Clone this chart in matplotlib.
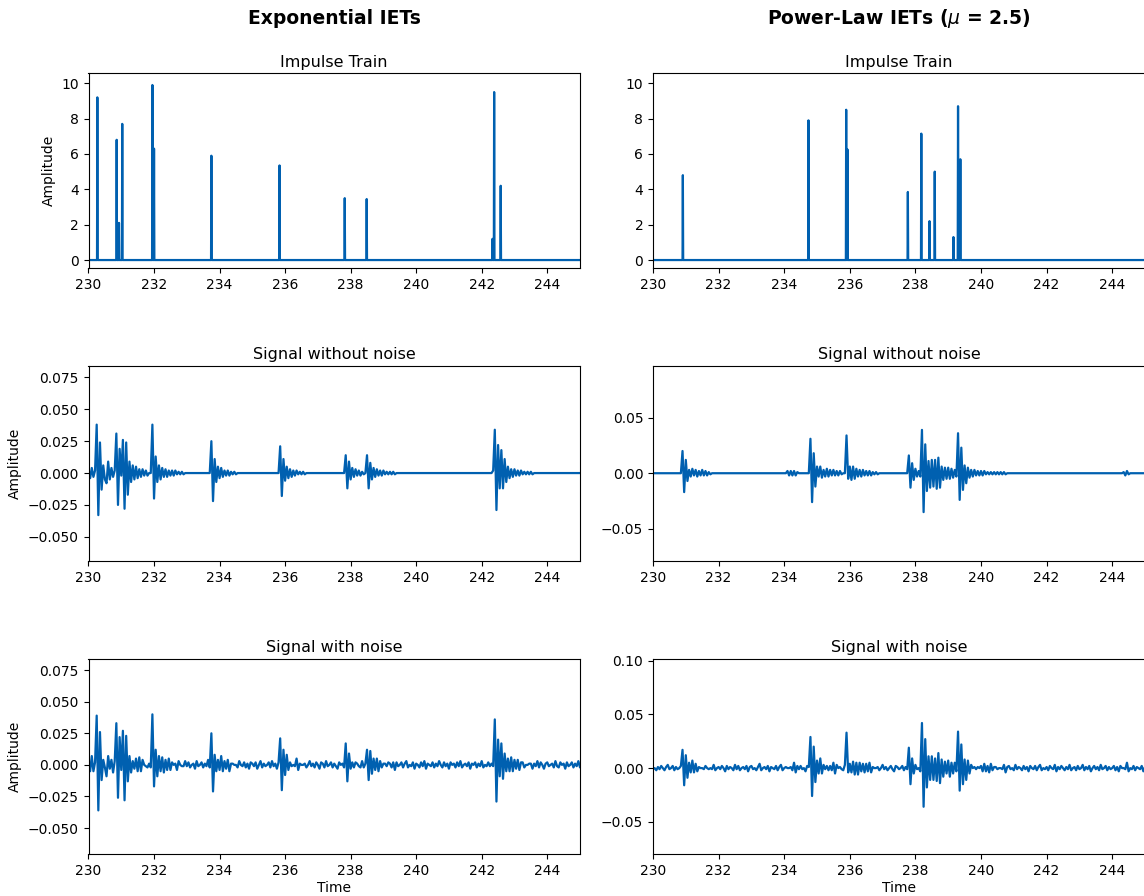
import matplotlib
matplotlib.use("Agg")
import matplotlib.pyplot as plt
import numpy as np

# impulse times / amplitudes
exp_imp_t = [230.27, 230.86, 230.93, 231.03, 231.95, 232.00, 233.75, 235.83,
             237.82, 238.49, 242.33, 242.38, 242.58]
exp_imp_a = [9.2, 6.8, 2.1, 7.7, 9.9, 6.3, 5.9, 5.35, 3.5, 3.45, 1.2, 9.5, 4.2]

pow_imp_t = [230.91, 234.74, 235.89, 235.93, 237.77, 238.18, 238.43, 238.59,
             239.16, 239.30, 239.37]
pow_imp_a = [4.8, 7.9, 8.5, 6.25, 3.85, 7.15, 2.2, 5.0, 1.3, 8.7, 5.7]

# signal bursts: onset time and successive samples (x 1e-3, 0.05 s apart)
exp_burst_t = [230.0, 230.25, 230.85, 231.95, 233.75, 235.85, 237.85, 238.5, 242.35]
exp_burst_v = [
    [3, -4, 4, -3, 2],
    [38, -33, 24, -13, 6, -5, -8, 9, -5, 4, -3, 2],
    [31, -25, 19, -2, 26, -28, 24, -17, 9, -7, 6, -5, 5, -4, 3, -3, 3, -2, 2, -2],
    [38, -20, 13, -7, 6, -5, 4, -3, 3, -3, 2, -2, 2, -2, 2, -1, 1, -1, 1, -1],
    [25, -22, 11, -7, 5, -4, 4, -3, 2, -2, 2, -2, 1, -1, 1, -1],
    [21, -18, 11, -6, 5, -4, 3, -3, 2, -2, 2, -1, 1, -1, 1, -1],
    [14, -12, 9, -5, 4, -3, 3, -2, 2, -2, 1, -1],
    [14, -12, 8, -5, 4, -3, 3, -2, 2, -2, 2, -1, 1, -1, 1, -1, 1, -1],
    [2, 34, -29, 22, -12, 18, -12, 11, -7, 5, -4, 3, -3, 3, -2, 2, -2, 2, -1, 1,
     -1, 1, -1, 1, -1],
]

pow_burst_t = [230.9, 234.1, 234.8, 235.9, 237.8, 238.2, 239.3, 244.35]
pow_burst_v = [
    [20, -17, 12, -7, 3, -3, 4, -2, 3, -3, 2, -2, 3, -2, 2, -2, 1, -1],
    [2, -2, 2, -2, 2, -2, 1],
    [31, -26, 18, -12, 6, -3, 6, -4, 3, -3, 4, -3, 3, -2, 3, -2, 2, -2, 2, -1],
    [34, -5, 6, -6, 6, -5, 4, -3, 3, -3, 3, -2, 2, -2, 2, -2, 1, -1, 1, -1],
    [16, -13, 9, -6, 4, -3, 2, -3],
    [39, -35, 26, -16, 11, -13, 12, -12, 12, -14, 14, -13, 6, -6, 5, -5, 5, -5,
     4, -4, 3, -3],
    [36, -24, 23, -15, 7, -9, 5, -4, 3, -3, 3, -2, 2, -2, 2, -2, 2, -1, 1, -1,
     1, -1, 1, -1, 1, -1, 1, -1, 1, -1],
    [1, -2, 2, -1],
]

# additive noise estimated from the bottom panels (x 1e-3, 0.05 s apart)
exp_noise = [
    2, -1, 3, -2, 0, 1, -3, 2, 1, -2, 3, -1, -2, 2, 0, -3, 1, 2, -1, 3,
    -2, 1, 0, -1, 4, -2, 1, -3, 2, 0, -1, 3, -2, 1, 2, -3, 0, 1, -2, 2,
    3, -1, -2, 1, 0, 2, -3, 1, -1, 3, -2, 0, 2, -1, -3, 2, 1, -2, 0, 3,
    -1, 2, -2, 0, 1, -3, 3, -1, 0, 2, -2, 1, -1, 4, -2, 0, 1, -3, 2, -1,
    0, 3, -2, 1, -1, 2, -3, 0, 2, -1, 1, -2, 3, 0, -1, 2, -2, 1, -3, 2,
    1, -1, 2, -3, 0, 3, -2, 1, -1, 0, 2, -2, 3, -1, 1, -3, 2, 0, -2, 1,
    -2, 3, 0, -1, 2, -2, 1, 3, -3, 0, 1, -1, 2, -2, 0, 3, -1, 1, -2, 2,
    0, -3, 2, 1, -2, 3, -1, 0, 2, -2, 1, -1, -3, 2, 0, 1, -2, 3, -1, 0,
    2, -2, 1, -1, 3, -3, 0, 2, -1, 1, -2, 0, 3, -2, 1, -1, 2, -3, 1, 0,
    -1, 2, -2, 3, 0, -1, 1, -3, 2, -1, 0, 2, -2, 1, 3, -2, 0, -1, 2, -3,
    1, 0, -2, 2, -1, 3, -3, 1, 0, -1, 2, -2, 1, -1, 3, 0, -2, 2, -1, 1,
    -3, 2, 0, 1, -2, 2, -1, 3, -2, 0, 1, -1, 2, -3, 1, 0, 2, -2, 1, -1,
    3, -2, 0, -1, 2, -1, 1, -3, 2, 0, -2, 3, -1, 1, -2, 2, 0, -1, 3, -2,
    1, -1, 2, -2, 0, 3, -3, 1, -1, 2, 0, -2, 1, -1, 3, -2, 2, 0, -3, 1,
    2, -1, 0, 1, -2, 3, -1, -2, 2, 0, 1, -3, 2, -1, 0, 2, -2, 1, -1, 3,
    -2, 0,
]
pow_noise = [
    -1, 0, -2, 1, -1, 2, 0, -2, 1, 3, -1, 0, 2, -2, 1, -1, 0, 2, -3, 1,
    0, -2, 2, -1, 3, -2, 1, 0, -1, 2, -3, 1, 0, 2, -2, 1, -1, 3, -2, 0,
    1, -1, 2, 0, -3, 2, -1, 1, 0, -2, 3, -1, 2, -2, 0, 1, -1, 2, -3, 1,
    2, -1, 0, -2, 1, 4, -2, 0, 1, -1, 2, -3, 1, 0, -1, 2, -2, 1, 3, -2,
    0, 1, -2, 2, -1, 0, 3, -2, 1, -1, 2, -1, 0, -3, 2, 1, -2, 0, 2, -1,
    1, -2, 3, -1, 0, 2, -2, 1, -1, 0, 2, -3, 1, 2, -1, 0, -2, 3, -1, 1,
    -2, 2, 0, -1, 1, -3, 2, 0, 1, -2, 2, -1, 3, -2, 0, 1, -1, 2, -2, 0,
    3, -1, 1, -2, 0, 2, -1, -3, 2, 1, -1, 0, 2, -2, 1, -1, 3, -2, 0, 1,
    -1, 2, -2, 0, 3, -1, 1, -2, 0, 2, -1, 1, -3, 2, 0, -1, 2, -2, 1, 0,
    2, -3, 1, -1, 2, 0, -2, 3, -1, 0, 1, -2, 2, -1, 0, 3, -2, 1, -1, 2,
    0, -1, 2, -2, 1, -3, 3, -1, 0, 2, -2, 1, -1, 0, 2, -3, 1, 2, -1, 0,
    -2, 3, -1, 1, 0, -2, 2, -1, 1, -3, 2, 0, -1, 2, -2, 1, 3, -2, 0, -1,
    1, -2, 2, 0, -1, 3, -3, 1, -1, 2, 0, -2, 1, -1, 3, -2, 0, 1, -2, 2,
    -1, 0, 3, -2, 1, -1, 2, -3, 0, 2, -1, 1, -2, 3, -1, 0, 2, -2, 1, -1,
    0, 2, -2, 1, -3, 2, 0, -1, 1, 3, -2, 0, -1, 2, -2, 1, 0, -1, 2, -3,
    1, 0,
]

T0, T1 = 230.0, 245.0
DT = 0.05
BLUE = "#0060b0"


def impulse_train(times, amps, step=0.01):
    t = T0 + step * np.arange(int(round((T1 - T0) / step)) + 1)
    y = np.zeros_like(t)
    for ti, a in zip(times, amps):
        y[int(round((ti - T0) / step))] = a
    return t, y


def signal(burst_t, burst_v, n):
    y = np.zeros(n)
    for t0, vals in zip(burst_t, burst_v):
        k = int(round((t0 - T0) / DT))
        v = np.array(vals[:n - k], dtype=float)
        y[k:k + len(v)] += v * 1e-3
    return y


fig = plt.figure(figsize=(11.44, 8.96), dpi=100)
W, H = 1144.0, 896.0


def add_ax(x0, x1, top, bottom):
    return fig.add_axes([x0 / W, 1 - bottom / H, (x1 - x0) / W, (bottom - top) / H])


cols = [(88.5, 580.0), (653.0, 1145.0)]
rows = [(73.5, 268.0), (366.0, 561.0), (659.0, 854.0)]

columns = [
    dict(imp_t=exp_imp_t, imp_a=exp_imp_a, bt=exp_burst_t, bv=exp_burst_v, noise=exp_noise,
         ylims=[(-0.45, 10.55), (-0.069, 0.084), (-0.0705, 0.0838)],
         yticks=[None, [-0.05, -0.025, 0, 0.025, 0.05, 0.075],
                 [-0.05, -0.025, 0, 0.025, 0.05, 0.075]]),
    dict(imp_t=pow_imp_t, imp_a=pow_imp_a, bt=pow_burst_t, bv=pow_burst_v, noise=pow_noise,
         ylims=[(-0.45, 10.55), (-0.079, 0.0965), (-0.080, 0.1016)],
         yticks=[None, [-0.05, 0, 0.05], [-0.05, 0, 0.05, 0.10]]),
]

for c, col in enumerate(columns):
    x0, x1 = cols[c]
    n = len(col["noise"])
    t = T0 + DT * np.arange(n)
    clean = signal(col["bt"], col["bv"], n)
    noisy = clean + np.array(col["noise"]) * 1e-3
    ti, yi = impulse_train(col["imp_t"], col["imp_a"])

    series = [(ti, yi, "Impulse Train"),
              (t, clean, "Signal without noise"),
              (t, noisy, "Signal with noise")]
    for r, (xx, yy, title) in enumerate(series):
        ax = add_ax(x0, x1, *rows[r])
        ax.plot(xx, yy, color=BLUE, lw=1.6)
        ax.set_xlim(T0, T1)
        ax.set_ylim(*col["ylims"][r])
        ax.set_xticks(np.arange(230, 246, 2))
        if col["yticks"][r] is not None:
            ax.set_yticks(col["yticks"][r])
        else:
            ax.set_yticks(np.arange(0, 11, 2))
        ax.set_title(title, fontsize=11.5, pad=5)
        ax.tick_params(labelsize=10)
        if c == 0:
            ax.set_ylabel("Amplitude", fontsize=10)
        if r == 2:
            ax.set_xlabel("Time", fontsize=10, labelpad=2)

fig.text(334.5 / W, 1 - 18 / H, "Exponential IETs", ha="center", va="center",
         fontsize=13.5, fontweight="bold")
fig.text(898.5 / W, 1 - 18 / H, r"Power-Law IETs ($\mu$ = 2.5)", ha="center",
         va="center", fontsize=13.5, fontweight="bold")

fig.savefig("out.png", dpi=100)
